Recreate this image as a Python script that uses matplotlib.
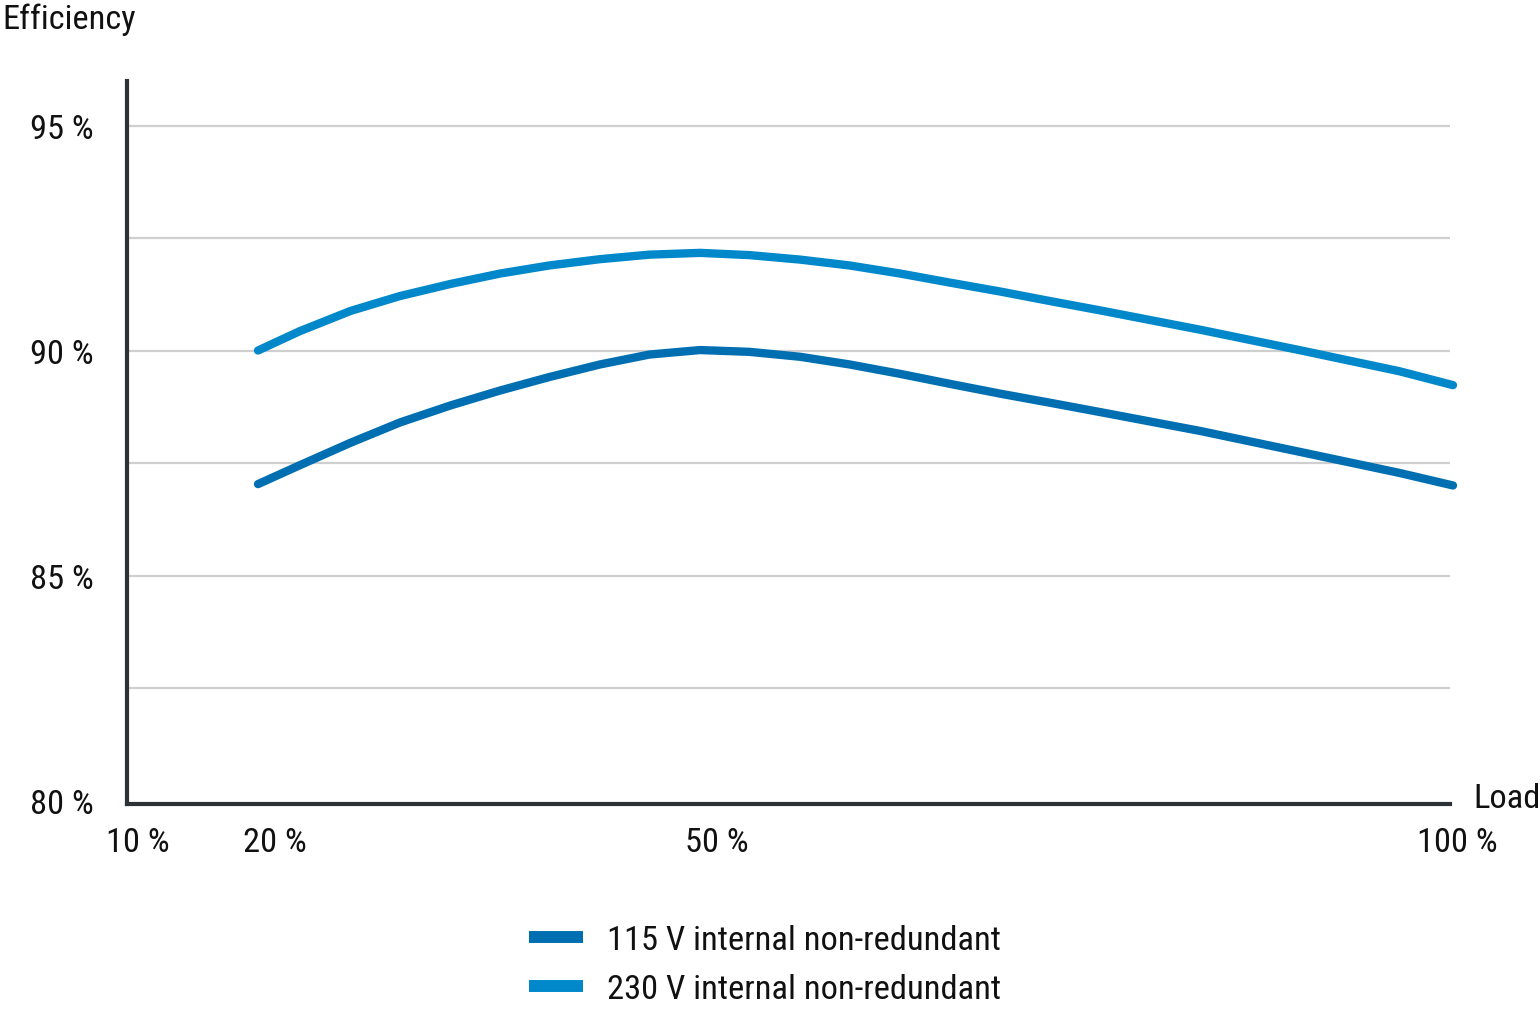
import matplotlib
matplotlib.use("Agg")
import matplotlib.pyplot as plt
import matplotlib.transforms as mtrans
from matplotlib.lines import Line2D
from matplotlib import font_manager as fm

# ---- data ----
load = [20, 22.8, 26.2, 29.5, 32.9, 36.2, 39.5, 42.9, 46.2, 49.6, 52.9, 56.3,
        59.6, 63.0, 66.3, 69.7, 73.0, 76.4, 83.1, 89.7, 96.4, 100]
eff_115 = [87.04, 87.46, 87.96, 88.41, 88.79, 89.12, 89.42, 89.70, 89.92, 90.02, 89.98, 89.87,
           89.70, 89.49, 89.27, 89.05, 88.85, 88.64, 88.22, 87.76, 87.29, 87.01]
eff_230 = [90.01, 90.44, 90.89, 91.22, 91.49, 91.72, 91.90, 92.04, 92.14, 92.18, 92.13, 92.03,
           91.90, 91.72, 91.52, 91.32, 91.11, 90.90, 90.47, 90.02, 89.55, 89.24]
series_names = ["115 V internal non-redundant", "230 V internal non-redundant"]
x_tick_values = [10, 20, 50, 100]
x_tick_labels = ["10 %", "20 %", "50 %", "100 %"]
y_tick_values = [80, 85, 90, 95]
y_tick_labels = ["80 %", "85 %", "90 %", "95 %"]
grid_values = [82.5, 85, 87.5, 90, 92.5, 95]

# ---- font: prefer a condensed face ----
def _w(f):
    if isinstance(f.weight, int):
        return f.weight
    return {"light": 300, "normal": 400, "regular": 400, "book": 400,
            "medium": 500, "bold": 700}.get(str(f.weight).lower(), 400)

def pick_font():
    cond = []
    for f in fm.fontManager.ttflist:
        st = str(f.stretch).lower()
        if f.style != "normal":
            continue
        if ("condensed" in f.name.lower() or "narrow" in f.name.lower()
                or "condensed" in st or st in ("75", "62", "87", "50")):
            cond.append(f)
    def score(f):
        pref = ["Roboto", "Liberation", "Open Sans", "Noto Sans", "DejaVu"]
        p = next((i for i, n in enumerate(pref) if n in f.name), len(pref))
        return (p, abs(_w(f) - 400))
    if cond:
        best = sorted(cond, key=score)[0]
        return fm.FontProperties(fname=best.fname)
    return fm.FontProperties(family="Roboto")

FS = 24.8
fp = pick_font()
fp.set_size(FS)
c115 = "#006fb2"
c230 = "#0088cb"
axis_col = "#2d3236"
grid_col = "#cfcfcf"
txt_col = "#111111"

fig = plt.figure(figsize=(15.4, 10.12), dpi=100)
W, H = 1540, 1012
ax = fig.add_axes([127 / W, 1 - 805 / H, (1450 - 127) / W, (805 - 82) / H])
ax.set_xlim(11.23, 99.8)
ax.set_ylim(79.93, 96.0)

for g in grid_values:
    ax.axhline(g, color=grid_col, lw=1.6, zorder=1)

ax.plot(load, eff_115, color=c115, lw=6, solid_capstyle="round", solid_joinstyle="round",
        clip_on=False, zorder=3)
ax.plot(load, eff_230, color=c230, lw=6, solid_capstyle="round", solid_joinstyle="round",
        clip_on=False, zorder=3)

for s in ["top", "right"]:
    ax.spines[s].set_visible(False)
for s in ["left", "bottom"]:
    ax.spines[s].set_color(axis_col)
    ax.spines[s].set_linewidth(3)
    ax.spines[s].set_capstyle("projecting")

ax.set_yticks(y_tick_values, labels=y_tick_labels)
ax.tick_params(axis="y", length=0, pad=24, labelcolor=txt_col)
for lab in ax.get_yticklabels():
    lab.set_fontproperties(fp)
ax.set_xticks([])

x_nudge_px = [29, 17, 11, 4]
for v, lab, dx in zip(x_tick_values, x_tick_labels, x_nudge_px):
    tr = mtrans.blended_transform_factory(ax.transData, ax.transAxes) + \
        mtrans.ScaledTranslation(dx / 100, -38 / 100, fig.dpi_scale_trans)
    ax.text(v, 0, lab, transform=tr, ha="center", va="center", fontproperties=fp,
            color=txt_col, clip_on=False)

fig.text(2 / W, 1 - 20 / H, "Efficiency", ha="left", va="center", fontproperties=fp, color=txt_col)
fig.text(1473 / W, 1 - 799 / H, "Load", ha="left", va="center", fontproperties=fp, color=txt_col)

handles = [Line2D([], [], color=c115, lw=8.6, solid_capstyle="butt"),
           Line2D([], [], color=c230, lw=8.6, solid_capstyle="butt")]
fig.legend(handles, series_names, loc="upper left",
           bbox_to_anchor=(529 / W, 1 - 925 / H), frameon=False, borderpad=0,
           borderaxespad=0, prop=fp, handlelength=1.57, handletextpad=0.70,
           labelspacing=0.50, labelcolor=txt_col)

fig.savefig("out.png", dpi=100)
